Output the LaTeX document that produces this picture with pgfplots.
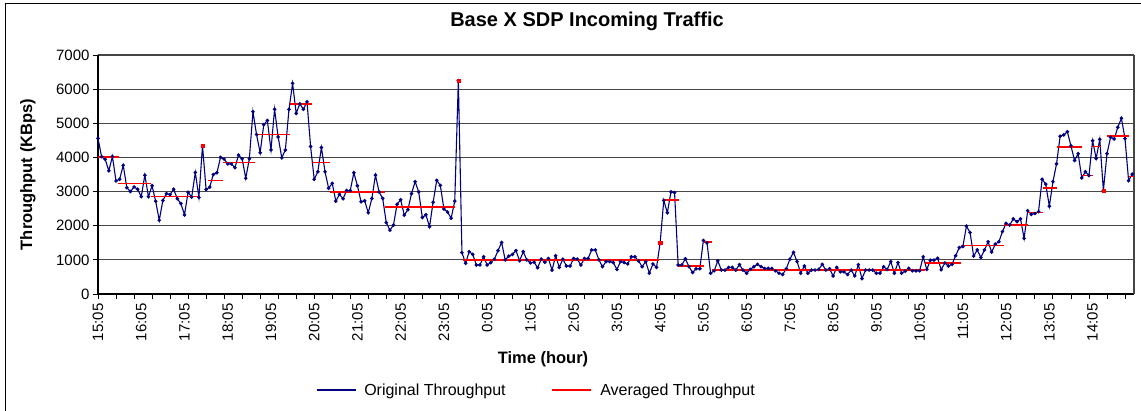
\documentclass[border=0pt]{standalone}
\usepackage{fontspec}
\setmainfont{Liberation Sans}
\usepackage{pgfplots}
\pgfplotsset{compat=1.18}
\usepackage{pgfplotstable}

\definecolor{navyline}{RGB}{0,0,128}
\definecolor{gridc}{RGB}{70,70,70}

\pgfplotstableread{
y
4560
4020
3945
3610
4030
3310
3360
3770
3115
3000
3135
3070
2850
3480
2850
3170
2720
2160
2740
2940
2910
3070
2790
2650
2320
2980
2840
3560
2830
4340
3060
3130
3500
3550
4000
3950
3810
3810
3700
4070
3960
3390
3960
5340
4670
4140
4960
5080
4220
5410
4600
3990
4220
5410
6170
5290
5570
5410
5630
4320
3360
3580
4290
3580
3100
3240
2720
2920
2790
3030
3030
3550
3170
2700
2730
2380
2800
3480
2990
2800
2090
1870
2020
2630
2760
2310
2470
2940
3290
2990
2240
2320
1970
2690
3330
3180
2490
2400
2220
2720
6250
1210
900
1240
1160
850
850
1090
850
920
1020
1270
1510
1000
1110
1160
1270
970
1240
1000
910
930
770
1020
930
1040
700
1120
780
1020
820
820
1040
1020
850
1040
1040
1290
1290
1000
800
950
950
920
720
950
920
880
1090
1090
970
800
950
610
880
780
1500
2740
2380
2990
2970
850
850
1030
800
630
740
740
1570
1500
610
680
970
700
700
780
780
700
860
700
610
720
800
870
800
750
750
750
680
610
570
740
1020
1220
950
610
820
610
700
700
720
870
700
740
530
780
650
650
570
700
530
860
450
700
700
700
610
610
800
720
950
610
920
610
670
750
680
680
680
1090
720
990
990
1050
710
910
820
870
1120
1360
1390
1990
1800
1110
1290
1070
1290
1530
1230
1460
1530
1830
2070
2020
2200
2120
2200
1630
2440
2330
2360
2410
3360
3220
2570
3290
3810
4620
4660
4750
4340
3910
4110
3400
3580
3470
4490
3970
4530
3030
4110
4590
4540
4880
5150
4550
3320
3510
}\origdata

\pgfplotstableread{
x y
0 4020
5.7 4020
nan nan
5.6 3240
14.6 3240
nan nan
14.6 2850
28.3 2850
nan nan
30.4 3320
34.8 3320
nan nan
34.6 3850
43.6 3850
nan nan
43.6 4670
53.4 4670
nan nan
53.4 5570
59.4 5570
nan nan
59.4 3850
64.3 3850
nan nan
64.3 2990
79.6 2990
nan nan
79.6 2540
99.2 2540
nan nan
101.3 990
155.6 990
nan nan
157.0 2750
161.1 2750
nan nan
161.0 820
168.3 820
nan nan
168.2 1530
170.5 1530
nan nan
170.3 700
229.4 700
nan nan
229.4 900
239.4 900
nan nan
239.4 1420
251.3 1420
nan nan
251.3 2020
258.1 2020
nan nan
258.1 2390
262.3 2390
nan nan
262.2 3100
266.2 3100
nan nan
266.0 4310
273.0 4310
nan nan
273.0 3470
276.0 3470
nan nan
275.8 4320
278.2 4320
nan nan
280.0 4620
286.2 4620
nan nan
286.2 3440
287.5 3440
}\avgdata

\pgfplotstableread{
x y
29 4340
100 6250
156 1500
279 3030
}\avgpoints

\begin{document}
\begin{tikzpicture}
\useasboundingbox (-98pt,-116pt) rectangle (1043pt,294pt);
\draw[black, line width=1pt] (-92pt,-140pt) -- (-92pt,290pt) -- (1060pt,290pt);
\begin{axis}[
  scale only axis,
  width=1036pt, height=239pt,
  xmin=0, xmax=287.5, ymin=0, ymax=7000,
  axis lines*=left,
  axis line style={black, line width=1.1pt},
  tick align=outside,
  major tick length=5pt,
  tick style={black, line width=0.9pt},
  ytick={0,1000,...,7000},
  xtick={0,5,...,285},
  xticklabels={,,},
  extra x ticks={0,12,...,276},
  extra x tick labels={15:05,16:05,17:05,18:05,19:05,20:05,21:05,22:05,23:05,0:05,1:05,2:05,3:05,4:05,5:05,6:05,7:05,8:05,9:05,10:05,11:05,12:05,13:05,14:05},
  extra x tick style={major tick length=0pt, xticklabel shift=6pt, xticklabel style={rotate=90, anchor=east, font=\fontsize{15}{18}\selectfont}},
  ymajorgrids,
  major grid style={gridc, line width=1.1pt},
  /pgf/number format/.cd, 1000 sep={}, assume math mode=true,
  /pgfplots/.cd,
  yticklabel style={font=\fontsize{15}{18}\selectfont},
  title={Base X SDP Incoming Traffic},
  title style={at={(axis description cs:0.472,1.117)}, anchor=center, font=\bfseries\fontsize{20}{24}\selectfont},
  xlabel={Time (hour)},
  xlabel style={at={(axis description cs:0.4295,-0.272)}, anchor=center, font=\bfseries\fontsize{16.5}{20}\selectfont},
  ylabel={Throughput (KBps)},
  ylabel style={at={(axis description cs:-0.0676,0.5)}, anchor=center, font=\bfseries\fontsize{16.5}{20}\selectfont},
  legend columns=2,
  legend style={at={(axis description cs:0.2075,-0.4017)}, anchor=west, draw=none, fill=none, font=\fontsize{16}{19}\selectfont, /tikz/every even column/.append style={column sep=38pt}, nodes={inner xsep=8pt}},
  legend image code/.code={\draw[#1, mark=none] (0pt,0pt) -- (39pt,0pt);},
  unbounded coords=jump,
  clip=false,
]
\draw[gridc, line width=1.2pt] (rel axis cs:1,0) -- (rel axis cs:1,1);
\addplot[navyline, line width=1.1pt, mark=*, mark size=1.2pt, mark options={solid, fill=navyline, draw=navyline}] table[x expr=\coordindex, y=y] {\origdata};
\addlegendentry{Original Throughput}
\addplot[red, line width=1.6pt] table[x=x, y=y] {\avgdata};
\addlegendentry{Averaged Throughput}
\addplot[only marks, red, mark=square*, mark size=1.6pt, forget plot] table[x=x, y=y] {\avgpoints};
\end{axis}
\end{tikzpicture}
\end{document}
